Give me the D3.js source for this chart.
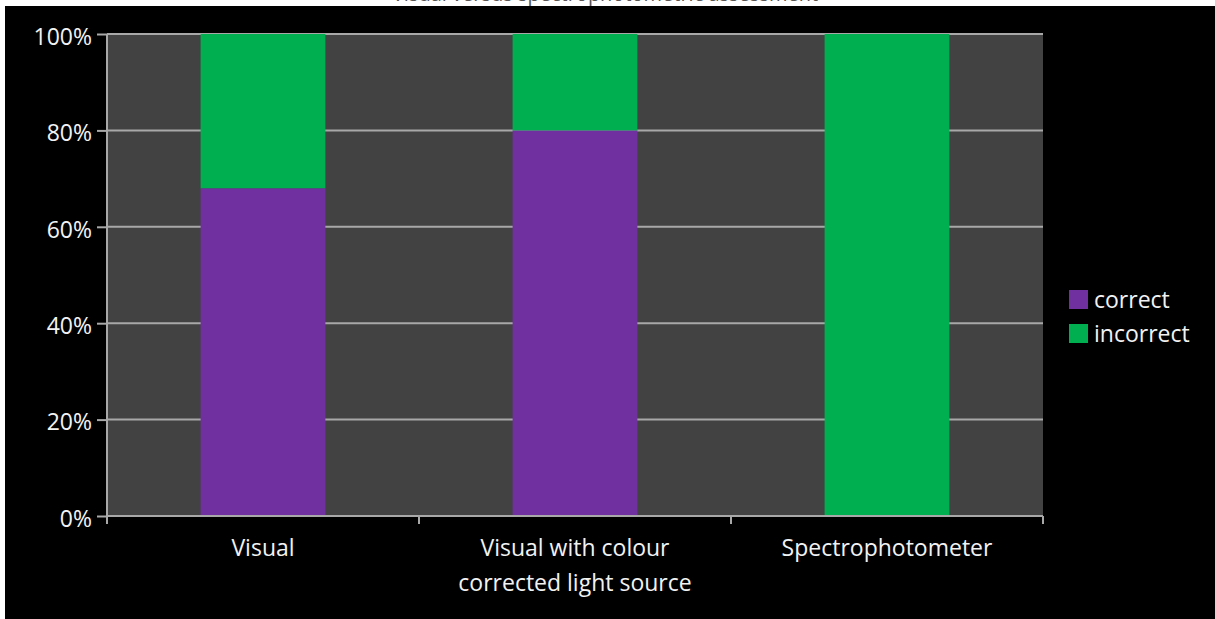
<!DOCTYPE html>
<html>
<head>
<meta charset="utf-8">
<script src="https://cdn.jsdelivr.net/npm/d3@7"></script>
<style>
  html, body { margin: 0; padding: 0; background: #ffffff; }
  svg { display: block; }
  text { font-family: "Open Sans", "Noto Sans", sans-serif; }
</style>
</head>
<body>
<svg id="chart" width="1215" height="619"></svg>
<script>
// Share of correct / incorrect judgements for each assessment method
const categories = ["Visual", "Visual with colour corrected light source", "Spectrophotometer"];
const seriesNames = ["correct", "incorrect"];
const correct = [68, 80, 0];
const incorrect = [32, 20, 100];
const yTicks = [0, 0.2, 0.4, 0.6, 0.8, 1];
const title = "Visual versus spectrophotometric assessment";

const colors = { correct: "#7030a0", incorrect: "#00b050" };
const W = 1215, H = 619;
const plot = { left: 107, right: 1043, top: 34, bottom: 516 };
const labelWeight = 500;
const labelSize = 23;

const svg = d3.select("#chart");

// Title strip along the top edge, then the black chart area
svg.append("text")
  .attr("x", 605).attr("y", 1)
  .attr("text-anchor", "middle")
  .attr("font-size", 20)
  .attr("fill", "#555")
  .text(title);
svg.append("rect")
  .attr("x", 5).attr("y", 6)
  .attr("width", W - 5).attr("height", H - 6)
  .attr("fill", "#000");

// Plot background
svg.append("rect")
  .attr("x", plot.left).attr("y", plot.top)
  .attr("width", plot.right - plot.left).attr("height", plot.bottom - plot.top)
  .attr("fill", "#424242");

const x = d3.scaleBand()
  .domain(categories)
  .range([plot.left, plot.right])
  .paddingInner(0.6)
  .paddingOuter(0.3);

const y = d3.scaleLinear().domain([0, 1]).range([plot.bottom, plot.top]);

// Gridlines
svg.append("g")
  .selectAll("line")
  .data(yTicks.filter(d => d > 0))
  .join("line")
  .attr("x1", plot.left).attr("x2", plot.right)
  .attr("y1", d => y(d)).attr("y2", d => y(d))
  .attr("stroke", "#a8a8a8").attr("stroke-width", 2);

// Stacked bars
const rows = categories.map((c, i) => ({
  category: c,
  correct: correct[i] / 100,
  incorrect: incorrect[i] / 100
}));
const stacked = d3.stack().keys(seriesNames)(rows);

svg.append("g")
  .selectAll("g")
  .data(stacked)
  .join("g")
  .attr("fill", d => colors[d.key])
  .selectAll("rect")
  .data(d => d)
  .join("rect")
  .attr("x", d => x(d.data.category))
  .attr("width", x.bandwidth())
  .attr("y", d => y(d[1]))
  .attr("height", d => y(d[0]) - y(d[1]));

// Y axis
const yAxis = svg.append("g")
  .attr("transform", `translate(${plot.left},0)`)
  .call(d3.axisLeft(y).tickValues(yTicks).tickFormat(d3.format(".0%")).tickSize(10).tickPadding(5));
yAxis.select(".domain").attr("stroke", "#a8a8a8").attr("stroke-width", 2)
  .attr("d", `M0,${plot.top}V${plot.bottom + 8}`);
yAxis.selectAll(".tick line").attr("stroke", "#a8a8a8").attr("stroke-width", 2);
yAxis.selectAll(".tick text")
  .attr("fill", "#f2f2f2")
  .attr("font-size", labelSize)
  .attr("font-weight", labelWeight)
  .attr("dy", "0.45em")
  .style("font-family", "'Open Sans', sans-serif");

// X axis line with ticks on category boundaries
const step = x.step();
const gap = (step - x.bandwidth()) / 2;
const boundaries = categories.map(c => x(c) - gap).concat([x(categories[categories.length - 1]) + x.bandwidth() + gap]);
const xAxis = svg.append("g");
xAxis.append("line")
  .attr("x1", plot.left).attr("x2", plot.right)
  .attr("y1", plot.bottom).attr("y2", plot.bottom)
  .attr("stroke", "#a8a8a8").attr("stroke-width", 2);
xAxis.selectAll("line.tk")
  .data(boundaries)
  .join("line")
  .attr("class", "tk")
  .attr("x1", d => d).attr("x2", d => d)
  .attr("y1", plot.bottom).attr("y2", plot.bottom + 8)
  .attr("stroke", "#a8a8a8").attr("stroke-width", 2);

// Category labels, wrapped to fit under each bar
const maxLabelWidth = 255;
const labels = xAxis.selectAll("text.cat")
  .data(categories)
  .join("text")
  .attr("class", "cat")
  .attr("x", d => x(d) + x.bandwidth() / 2)
  .attr("y", plot.bottom + 40)
  .attr("text-anchor", "middle")
  .attr("font-size", labelSize)
  .attr("font-weight", labelWeight)
  .attr("fill", "#f2f2f2");
labels.each(function(d) {
  const t = d3.select(this);
  const cx = x(d) + x.bandwidth() / 2;
  const words = d.split(" ");
  let line = [];
  let tspan = t.append("tspan").attr("x", cx).attr("dy", 0);
  words.forEach(w => {
    line.push(w);
    tspan.text(line.join(" "));
    if (tspan.node().getComputedTextLength() > maxLabelWidth && line.length > 1) {
      line.pop();
      tspan.text(line.join(" "));
      line = [w];
      tspan = t.append("tspan").attr("x", cx).attr("dy", 35).text(w);
    }
  });
});

// Legend
const legend = svg.append("g")
  .selectAll("g")
  .data(seriesNames)
  .join("g")
  .attr("transform", (d, i) => `translate(1069,${290 + i * 34})`);
legend.append("rect")
  .attr("width", 19).attr("height", 19)
  .attr("fill", d => colors[d]);
legend.append("text")
  .attr("x", 25).attr("y", 18)
  .attr("font-size", labelSize)
  .attr("font-weight", labelWeight)
  .attr("fill", "#f2f2f2")
  .text(d => d);
</script>
</body>
</html>
